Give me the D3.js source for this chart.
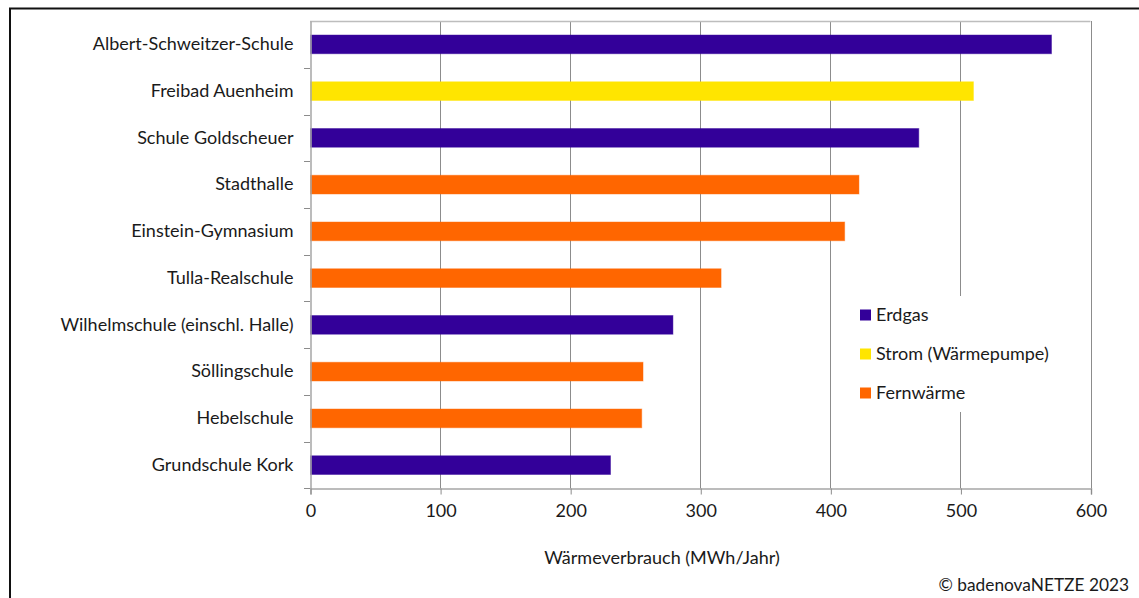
<!DOCTYPE html>
<html>
<head>
<meta charset="utf-8">
<script src="https://cdn.jsdelivr.net/npm/d3@7"></script>
<style>
  html, body { margin: 0; padding: 0; background: #fff; }
  svg { display: block; font-family: Lato, "Open Sans", sans-serif; }
</style>
</head>
<body>
<svg id="chart" width="1139" height="598"></svg>
<script>
// Heat consumption of municipal buildings (MWh per year)
const buildings = [
  "Albert-Schweitzer-Schule",
  "Freibad Auenheim",
  "Schule Goldscheuer",
  "Stadthalle",
  "Einstein-Gymnasium",
  "Tulla-Realschule",
  "Wilhelmschule (einschl. Halle)",
  "Söllingschule",
  "Hebelschule",
  "Grundschule Kork"
];
const consumption = [570, 510, 468, 422, 411, 316, 279, 256, 255, 231];
const energySource = ["Erdgas", "Strom (Wärmepumpe)", "Erdgas", "Fernwärme", "Fernwärme",
                      "Fernwärme", "Erdgas", "Fernwärme", "Fernwärme", "Erdgas"];
const sources = ["Erdgas", "Strom (Wärmepumpe)", "Fernwärme"];
const sourceColors = ["#330099", "#FFE500", "#FF6600"];
const xTicks = [0, 100, 200, 300, 400, 500, 600];
const xTitle = "Wärmeverbrauch (MWh/Jahr)";
const credit = "© badenovaNETZE 2023";

const rows = buildings.map((b, i) => ({ name: b, value: consumption[i], source: energySource[i] }));

const svg = d3.select("#chart");
const plot = { left: 310, right: 1090.5, top: 21, bottom: 488.5 };
const FS = 18;
const textColor = "#1a1a1a";

const x = d3.scaleLinear().domain([0, 600]).range([plot.left, plot.right]);
const y = d3.scaleBand().domain(buildings).range([plot.top, plot.bottom])
  .paddingInner(0.6).paddingOuter(0.3);
const color = d3.scaleOrdinal().domain(sources).range(sourceColors);

// Outer frame
svg.append("rect")
  .attr("x", 10).attr("y", 8.5).attr("width", 1140).attr("height", 600)
  .attr("fill", "none").attr("stroke", "#111").attr("stroke-width", 2);

// Vertical gridlines
svg.append("g").selectAll("line").data(xTicks.slice(1)).join("line")
  .attr("x1", d => Math.round(x(d)) + 0.5).attr("x2", d => Math.round(x(d)) + 0.5)
  .attr("y1", plot.top).attr("y2", plot.bottom)
  .attr("stroke", "#8c8c8c").attr("stroke-width", 1);

// Top border of plot area
svg.append("line")
  .attr("x1", plot.left).attr("x2", plot.right)
  .attr("y1", plot.top + 0.5).attr("y2", plot.top + 0.5)
  .attr("stroke", "#bdbdbd").attr("stroke-width", 1.5);

// Bars
svg.append("g").selectAll("rect").data(rows).join("rect")
  .attr("x", x(0) + 0.5)
  .attr("y", d => y(d.name))
  .attr("width", d => x(d.value) - x(0) - 0.5)
  .attr("height", y.bandwidth())
  .attr("fill", d => color(d.source))
  .attr("stroke", d => color(d.source))
  .attr("stroke-opacity", 0.45)
  .attr("stroke-width", 1);

// Category axis (left)
const yAxis = d3.axisLeft(y).tickSize(0).tickPadding(17);
const gy = svg.append("g").attr("transform", `translate(${plot.left + 0.5},0)`).call(yAxis)
  .attr("font-family", null).attr("font-size", null);
gy.select(".domain").attr("stroke", "#a6a6a6").attr("stroke-width", 1.5);
gy.selectAll("text").attr("font-size", FS).attr("fill", textColor);
// Tick marks between categories
const step = y.step();
const gap = (step - y.bandwidth()) / 2;
const boundaries = buildings.map(b => y(b) + y.bandwidth() + gap);
svg.append("g").selectAll("line").data(boundaries).join("line")
  .attr("x1", plot.left - 6).attr("x2", plot.left)
  .attr("y1", d => Math.round(d) + 0.5).attr("y2", d => Math.round(d) + 0.5)
  .attr("stroke", "#8c8c8c");

// Value axis (bottom)
const xAxis = d3.axisBottom(x).tickValues(xTicks).tickSize(6).tickPadding(10);
const gx = svg.append("g").attr("transform", `translate(0.5,${plot.bottom})`).call(xAxis)
  .attr("font-family", null).attr("font-size", null);
gx.select(".domain").attr("stroke", "#a6a6a6").attr("stroke-width", 1.5);
gx.selectAll(".tick line").attr("stroke", "#8c8c8c");
gx.selectAll("text").attr("font-size", FS).attr("fill", textColor);

// Axis title
svg.append("text")
  .attr("x", 662).attr("y", 564)
  .attr("text-anchor", "middle").attr("font-size", FS).attr("fill", textColor)
  .text(xTitle);

// Credit line
svg.append("text")
  .attr("x", 1129).attr("y", 591)
  .attr("text-anchor", "end").attr("font-size", 17.3).attr("fill", textColor)
  .text(credit);

// Legend
const legend = svg.append("g");
legend.append("rect")
  .attr("x", 845).attr("y", 296).attr("width", 225).attr("height", 116)
  .attr("fill", "#fff");
const items = legend.selectAll("g").data(sources).join("g")
  .attr("transform", (d, i) => `translate(860,${315 + i * 39})`);
items.append("rect")
  .attr("x", 0).attr("y", -5.5).attr("width", 11).attr("height", 11)
  .attr("fill", d => color(d));
items.append("text")
  .attr("x", 16).attr("dy", "0.35em").attr("font-size", FS).attr("fill", textColor)
  .text(d => d);
</script>
</body>
</html>
